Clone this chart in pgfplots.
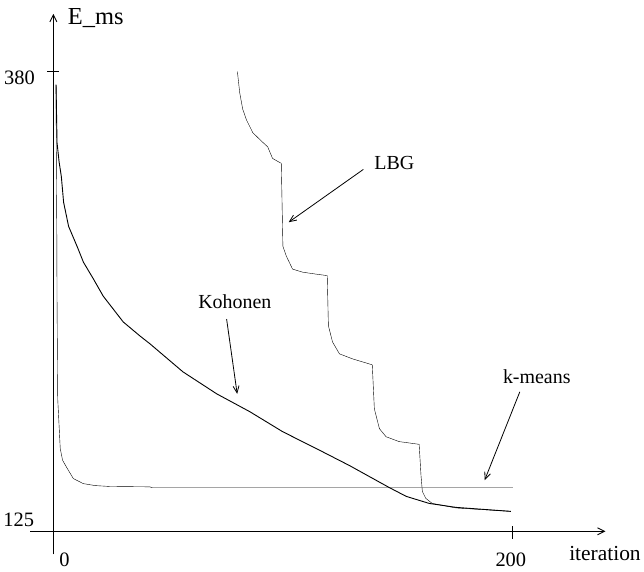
\documentclass[border=0pt]{standalone}
\usepackage{pgfplots}
\pgfplotsset{compat=1.18}
\usetikzlibrary{arrows.meta}
\usepackage{fontspec}
\setmainfont{Liberation Serif}

\pgfplotstableread{
x y
1.17 372.8
1.3 330
1.5 290
1.6 253.9
1.9 198.6
3.0 170.9
4.0 164.5
6.1 159.8
8.7 154.3
13 151.5
18.2 150.4
24.7 149.9
42 149.7
43 149.2
200 149.2
}\kmeans

\pgfplotstableread{
x y
1.17 372.8
1.6 340.7
2.5 330
3.47 321.9
4.47 307.5
6.64 294.2
10.3 283.2
13.1 274.3
17.5 264.9
21.7 255.5
30.4 241.2
37.7 233.4
42.1 229.0
56.4 213.5
71.1 201.3
85.5 191.4
99.8 180.3
114.5 170.9
128.9 161.5
146.2 149.3
153.6 144.4
163.6 140.5
175.3 138.3
199.1 136.1
}\kohonen

\pgfplotstableread{
x y
80.1 380.1
81.1 368.4
82.4 359.3
84.0 353.4
86.8 346.2
90.5 341.6
93.3 338.3
95.4 331.9
97.6 330.3
99.2 329.2
99.9 283.2
101.4 277.7
104.1 270.5
108.5 268.8
114.4 267.7
119.2 266.9
119.7 239.1
121.5 230.1
124.5 223.5
130.2 220.7
138.8 217.4
139.7 193.0
141.9 182.0
144.8 177.5
150.5 174.8
159.2 173.3
160.0 156.1
160.6 147.1
162.1 143.3
164.9 140.5
175.3 138.0
199.1 136.1
}\lbg

\begin{document}
\begin{tikzpicture}[font=\rmfamily]
\begin{axis}[
  scale only axis,
  width=644pt, height=573pt,
  xmin=-23, xmax=256.4,
  ymin=102.9, ymax=419.8,
  hide axis,
  clip=false,
  cycle list={{black, line width=0.9pt, no marks}},
]
\path (rel axis cs:0,0) rectangle (rel axis cs:1,1);

% axes
\draw[line width=0.9pt, -{Straight Barb[length=7pt,width=7pt]}] (axis cs:0,112.3) -- (axis cs:0,412.1);
\draw[line width=0.9pt, -{Straight Barb[length=7pt,width=7pt]}] (axis cs:-10,125) -- (axis cs:240.3,125);
\draw[line width=0.9pt] (axis cs:-2.6,380) -- (axis cs:2.6,380);
\draw[line width=0.9pt] (axis cs:200,127.8) -- (axis cs:200,120.6);

\addplot table[x=x,y=y] {\kmeans};
\addplot table[x=x,y=y] {\kohonen};
\addplot table[x=x,y=y] {\lbg};

% labels
\node[anchor=west, font=\rmfamily\fontsize{24.5}{28}\selectfont] at (axis cs:4.8,409.8) {E\_ms};
\node[anchor=east, font=\rmfamily\fontsize{20.5}{24}\selectfont] at (axis cs:-6.5,376.7) {380};
\node[anchor=east, font=\rmfamily\fontsize{20.5}{24}\selectfont] at (axis cs:-6.9,131.6) {125};
\node[font=\rmfamily\fontsize{20.5}{24}\selectfont] at (axis cs:4.8,109.5) {0};
\node[font=\rmfamily\fontsize{20.5}{24}\selectfont] at (axis cs:199.1,109.5) {200};
\node[anchor=west, font=\rmfamily\fontsize{21.5}{24}\selectfont] at (axis cs:223,112.8) {iteration};

\node[font=\rmfamily\fontsize{20}{24}\selectfont] at (axis cs:79.0,252.2) {Kohonen};
\node[font=\rmfamily\fontsize{20}{24}\selectfont] at (axis cs:148.4,329.6) {LBG};
\node[font=\rmfamily\fontsize{20}{24}\selectfont] at (axis cs:210.4,210.7) {k-means};

\draw[line width=0.8pt, -{Straight Barb[length=7pt,width=6pt]}] (axis cs:75.4,242.8) -- (axis cs:80.0,201.3);
\draw[line width=0.8pt, -{Straight Barb[length=7pt,width=6pt]}] (axis cs:134.9,325.8) -- (axis cs:102.4,296.5);
\draw[line width=0.8pt, -{Straight Barb[length=7pt,width=6pt]}] (axis cs:203.0,202.4) -- (axis cs:187.7,153.4);
\end{axis}
\end{tikzpicture}
\end{document}
